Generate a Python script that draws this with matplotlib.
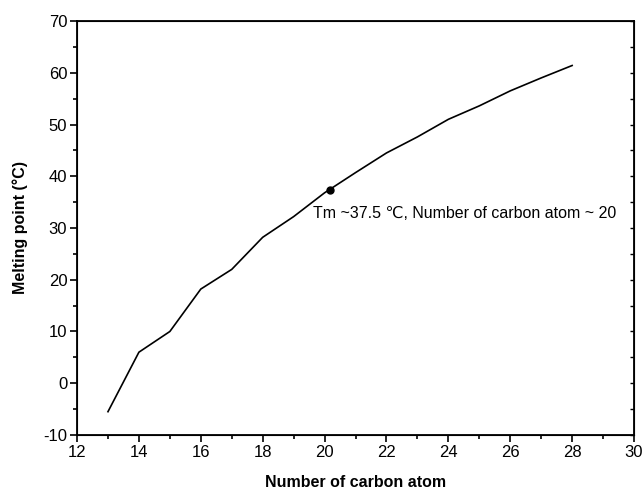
import matplotlib
matplotlib.use("Agg")
import matplotlib.pyplot as plt
from matplotlib.ticker import MultipleLocator

plt.rcParams['font.family'] = ['Liberation Sans', 'DejaVu Sans']
plt.rcParams['axes.unicode_minus'] = False

# melting points of n-alkanes
carbon_atoms = [13, 14, 15, 16, 17, 18, 19, 20, 21, 22, 23, 24, 25, 26, 27, 28]
melting_point = [-5.5, 6.0, 10.0, 18.2, 22.0, 28.2, 32.2, 36.8, 40.7, 44.5, 47.6,
                 51.0, 53.6, 56.5, 59.0, 61.4]

mark_x = 20.18
mark_y = 37.3
mark_text = "Tm ~37.5 \u2103, Number of carbon atom ~ 20"

fig = plt.figure(figsize=(6.44, 4.92), dpi=100)
ax = fig.add_axes([0.1196, 0.1159, 0.8649, 0.8414])

ax.plot(carbon_atoms, melting_point, color='black', lw=1.2)
ax.plot([mark_x], [mark_y], 'o', color='black', ms=5)
ax.text(mark_x - 0.55, mark_y - 4.5, mark_text, fontsize=11.5, va='center', ha='left')

ax.set_xlim(12, 30)
ax.set_ylim(-10, 70)
ax.xaxis.set_major_locator(MultipleLocator(2))
ax.xaxis.set_minor_locator(MultipleLocator(1))
ax.yaxis.set_major_locator(MultipleLocator(10))
ax.yaxis.set_minor_locator(MultipleLocator(5))
ax.tick_params(which='major', direction='out', length=5, width=1.2, labelsize=12, pad=2)
ax.tick_params(which='minor', direction='out', length=3, width=1.2)

for s in ax.spines.values():
    s.set_linewidth(1.3)

# right side ticks point inward
ax2 = ax.twinx()
ax2.set_ylim(-10, 70)
ax2.yaxis.set_major_locator(MultipleLocator(10))
ax2.yaxis.set_minor_locator(MultipleLocator(5))
ax2.tick_params(which='both', direction='in', length=3, width=1.0, labelright=False)

ax.set_xlabel("Number of carbon atom", fontsize=11.5, fontweight='bold', labelpad=11)
ax.set_ylabel("Melting point (\u00b0C)", fontsize=11.5, fontweight='bold', labelpad=11)

fig.savefig("out.png", dpi=100)
